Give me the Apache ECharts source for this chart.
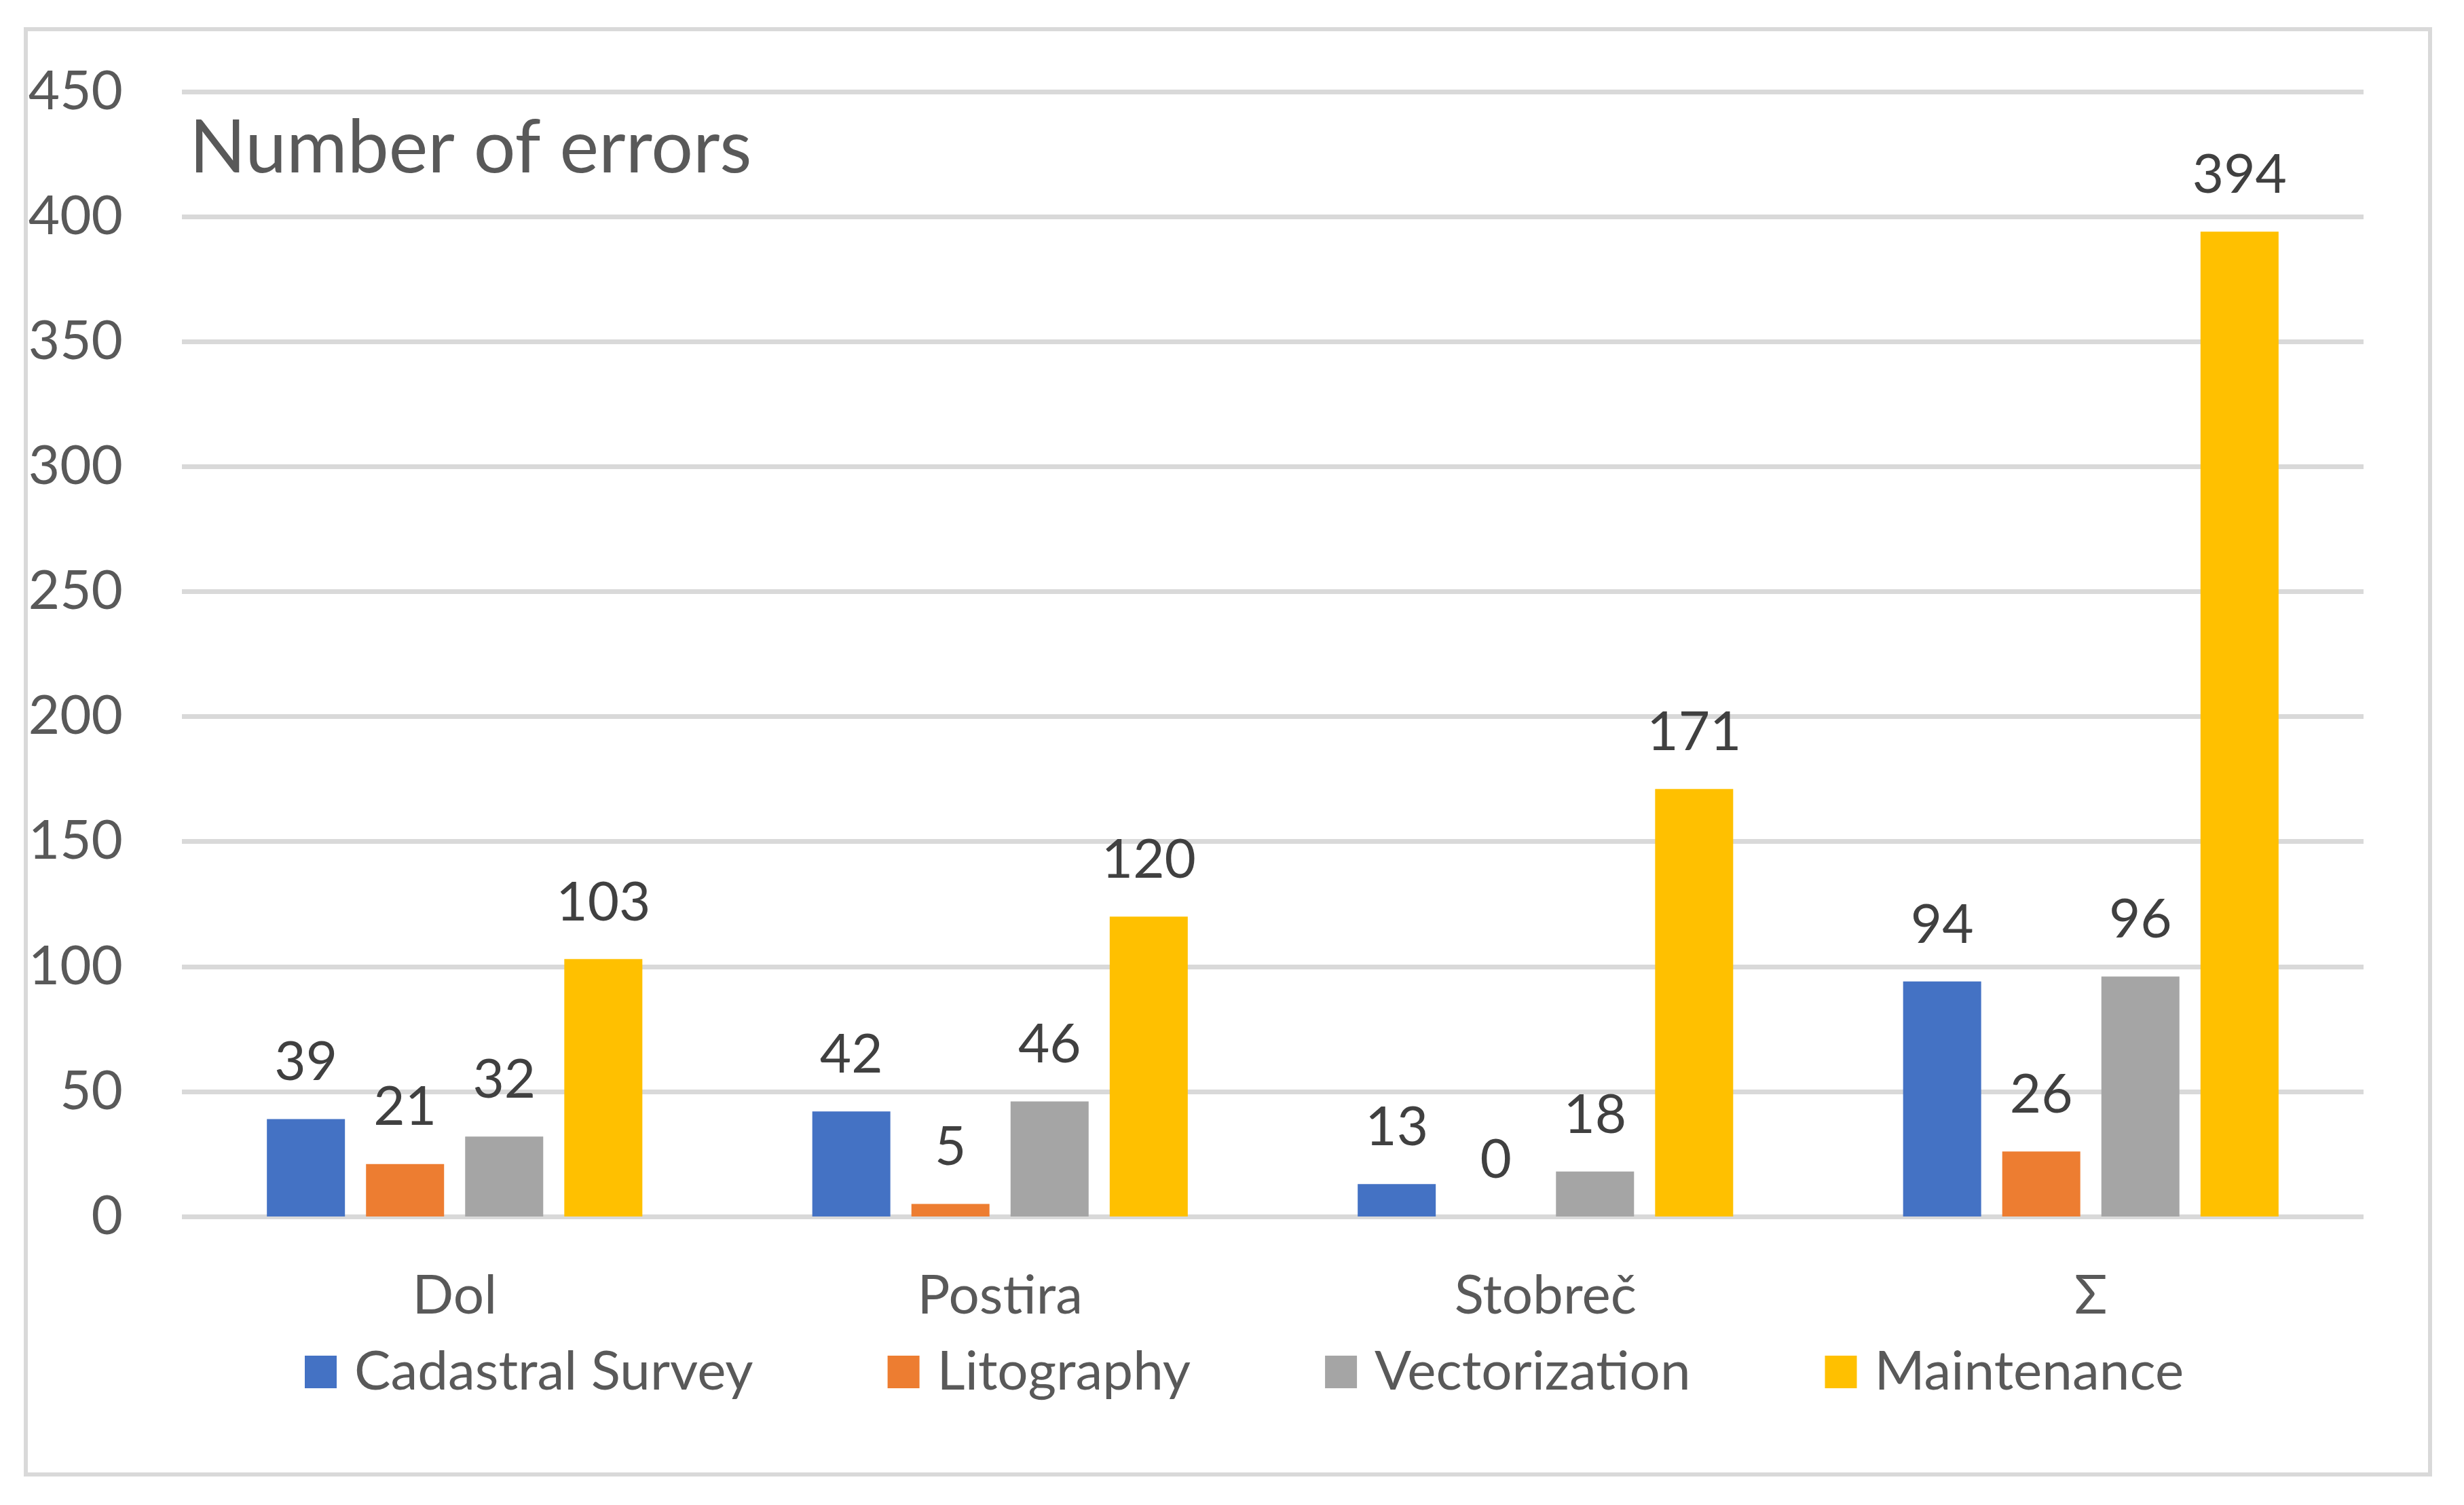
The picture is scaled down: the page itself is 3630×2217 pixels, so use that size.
<!DOCTYPE html>
<html>
<head>
<meta charset="utf-8">
<script src="https://cdn.jsdelivr.net/npm/echarts@6/dist/echarts.min.js"></script>
<style>
html,body{margin:0;padding:0;background:#fff;}
#chart{width:3630px;height:2217px;}
</style>
</head>
<body>
<div id="chart"></div>
<script>
const categories = ['Dol', 'Postira', 'Stobreč', 'Σ'];
const seriesNames = ['Cadastral Survey', 'Litography', 'Vectorization', 'Maintenance'];
const cadastralSurvey = [39, 42, 13, 94];
const litography = [21, 5, 0, 26];
const vectorization = [32, 46, 18, 96];
const maintenance = [103, 120, 171, 394];
const colors = ['#4472C4', '#ED7D31', '#A5A5A5', '#FFC000'];
const yMin = 0, yMax = 450, yStep = 50;
const chartTitle = 'Number of errors';

const FONT = 'Lato';
const allValues = [cadastralSurvey, litography, vectorization, maintenance];

const chart = echarts.init(document.getElementById('chart'), null, {renderer: 'canvas'});
const series = seriesNames.map((name, i) => ({
  name: name,
  type: 'bar',
  data: allValues[i],
  barWidth: 115,
  barGap: '27%',
  itemStyle: {color: colors[i]},
  label: {
    show: true,
    position: 'top',
    distance: 43,
    color: '#404040',
    fontFamily: FONT,
    fontSize: 80,
    lineHeight: 80
  }
}));

chart.setOption({
  animation: false,
  backgroundColor: '#ffffff',
  title: {
    text: chartTitle,
    left: 279,
    top: 164,
    textStyle: {color: '#595959', fontFamily: FONT, fontSize: 109, fontWeight: 'normal', lineHeight: 109},
    padding: 0
  },
  graphic: [{
    type: 'rect',
    shape: {x: 38, y: 43, width: 3542, height: 2129},
    style: {fill: 'none', stroke: '#D9D9D9', lineWidth: 6},
    silent: true,
    z: -1
  }],
  legend: {
    data: seriesNames,
    left: 444,
    top: 1976,
    itemWidth: 47,
    itemHeight: 48,
    itemGap: 198,
    icon: 'rect',
    textStyle: {color: '#595959', fontFamily: FONT, fontSize: 80, padding: [0, 0, 0, 21]}
  },
  grid: {left: 268, right: 148, top: 135, bottom: 425, containLabel: false},
  xAxis: {
    type: 'category',
    data: categories,
    axisLine: {show: false},
    axisTick: {show: false},
    axisLabel: {color: '#595959', fontFamily: FONT, fontSize: 80, lineHeight: 80, margin: 77}
  },
  yAxis: {
    type: 'value',
    min: yMin,
    max: yMax,
    interval: yStep,
    axisLine: {show: false},
    axisTick: {show: false},
    axisLabel: {color: '#595959', fontFamily: FONT, fontSize: 80, margin: 87},
    splitLine: {lineStyle: {color: '#D9D9D9', width: 7}}
  },
  series: series
});
</script>
</body>
</html>
